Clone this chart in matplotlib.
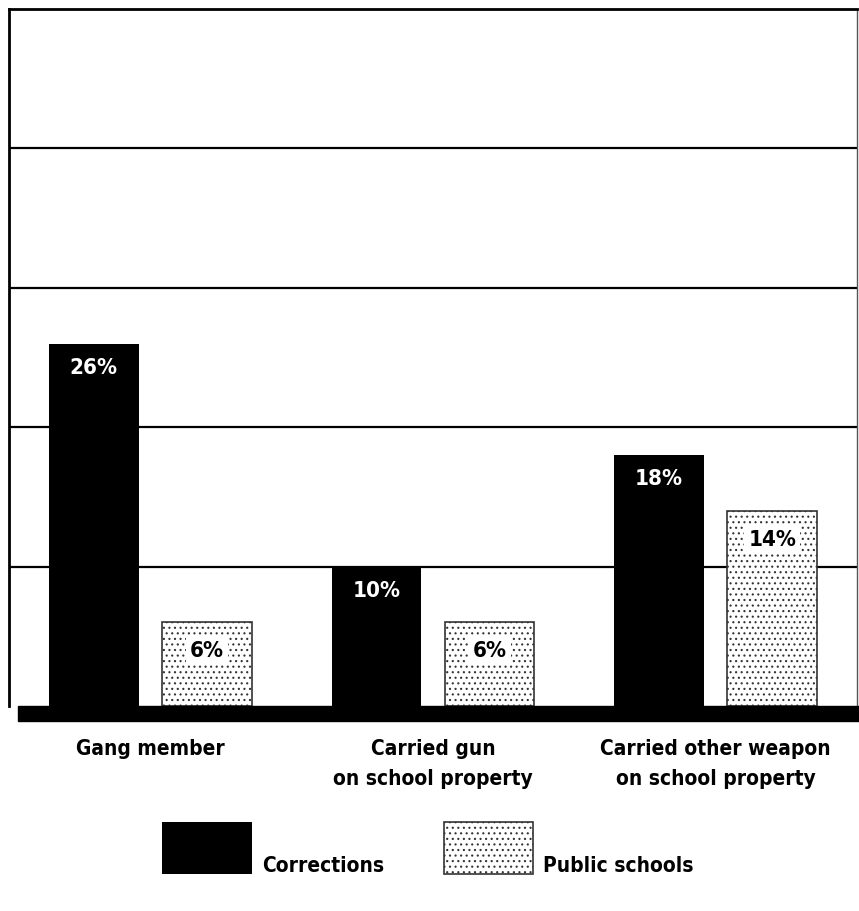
import matplotlib.pyplot as plt
from matplotlib.patches import Rectangle
from matplotlib import font_manager

categories = ['Gang member', 'Carried gun\non school property',
              'Carried other weapon\non school property']
corrections = [26, 10, 18]
public_schools = [6, 6, 14]
series_names = ['Corrections', 'Public schools']

# look for a condensed bold face, otherwise plain DejaVu
fam, stretch = 'DejaVu Sans', 'normal'
for f in font_manager.fontManager.ttflist:
    if f.stretch in ('condensed', 'semi-condensed', 'extra-condensed') and f.name in (
            'DejaVu Sans', 'Liberation Sans Narrow', 'Roboto', 'Open Sans', 'Noto Sans'):
        fam, stretch = f.name, f.stretch
        break
plt.rcParams['font.family'] = fam
plt.rcParams['font.stretch'] = stretch
plt.rcParams['font.weight'] = 'bold'
plt.rcParams['hatch.color'] = '#a8a8a8'
plt.rcParams['hatch.linewidth'] = 0.8

fs = 15 if stretch != 'normal' else 13.5

fig = plt.figure(figsize=(8.59, 9.12), dpi=100)
ax = fig.add_axes([9 / 859, 1 - 707 / 912, 848 / 859, 697 / 912])

x = list(range(len(categories)))
w = 0.318
off = 0.2

ax.set_xlim(-0.5, 2.5)
ax.set_ylim(0, 50)
for g in [10, 20, 30, 40]:
    ax.axhline(g, color='black', lw=1.6, zorder=1)

ax.bar([i - off for i in x], corrections, w, color='black', zorder=3)
ax.bar([i + off for i in x], public_schools, w, facecolor='white',
       edgecolor='#333333', hatch='...', lw=1.2, zorder=3)

for i, v in enumerate(corrections):
    ax.annotate(f'{v}%', (i - off, v), xytext=(0, -23), textcoords='offset pixels',
                ha='center', va='center', color='white', fontsize=fs + 1, zorder=5)
for i, v in enumerate(public_schools):
    ax.annotate(f'{v}%', (i + off, v), xytext=(0, -28), textcoords='offset pixels',
                ha='center', va='center', color='black', fontsize=fs + 1,
                bbox=dict(facecolor='white', edgecolor='none', pad=3), zorder=5)

ax.set_xticks([])
ax.set_yticks([])
for s in ['left', 'top']:
    ax.spines[s].set_linewidth(2)
ax.spines['right'].set_linewidth(1)
ax.spines['right'].set_color('#555555')
ax.spines['bottom'].set_visible(False)

# heavy base strip under the bars
fig.patches.append(Rectangle((18 / 859, 1 - 722 / 912), 841 / 859, 15 / 912,
                             transform=fig.transFigure, color='black', zorder=0))

for i, c in enumerate(categories):
    ax.text(i, -2.3, c, ha='center', va='top', fontsize=fs, linespacing=1.65)

# legend boxes
fig.patches.append(Rectangle((162 / 859, 1 - 875 / 912), 90 / 859, 52 / 912,
                             transform=fig.transFigure, facecolor='black'))
fig.patches.append(Rectangle((444 / 859, 1 - 875 / 912), 89 / 859, 52 / 912,
                             transform=fig.transFigure, facecolor='white',
                             edgecolor='#333333', hatch='...', lw=1.2))
fig.text(262 / 859, 1 - 876 / 912, series_names[0], ha='left', va='bottom', fontsize=fs)
fig.text(543 / 859, 1 - 876 / 912, series_names[1], ha='left', va='bottom', fontsize=fs)

fig.savefig('out.png', dpi=100, facecolor='white')
